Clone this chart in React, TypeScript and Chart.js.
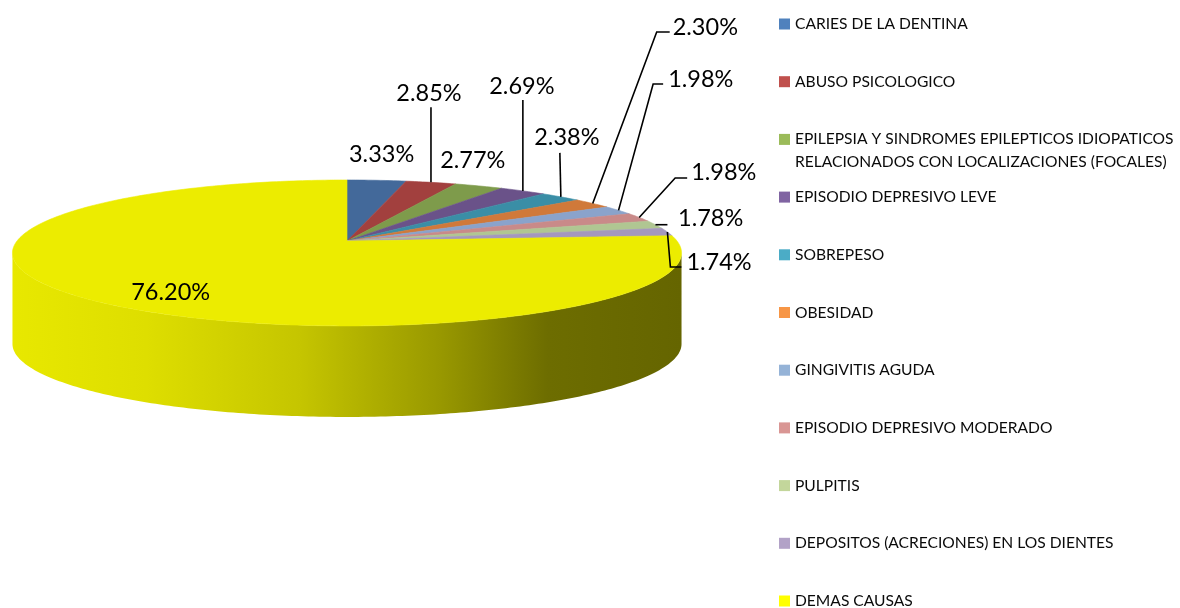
import React, { useEffect, useRef } from "react";
import { Chart, registerables } from "chart.js";

Chart.register(...registerables);

const categories = [
  "CARIES DE LA DENTINA",
  "ABUSO PSICOLOGICO",
  "EPILEPSIA Y SINDROMES EPILEPTICOS IDIOPATICOS\nRELACIONADOS CON LOCALIZACIONES (FOCALES)",
  "EPISODIO DEPRESIVO LEVE",
  "SOBREPESO",
  "OBESIDAD",
  "GINGIVITIS AGUDA",
  "EPISODIO DEPRESIVO MODERADO",
  "PULPITIS",
  "DEPOSITOS (ACRECIONES) EN LOS DIENTES",
  "DEMAS CAUSAS",
];
const percentages = [3.33, 2.85, 2.77, 2.69, 2.38, 2.3, 1.98, 1.98, 1.78, 1.74, 76.2];
const legendColors = [
  "#4F81BD", "#C0504D", "#9BBB59", "#8064A2", "#4BACC6", "#F79646",
  "#95B3D7", "#D99694", "#C3D69B", "#B2A2C7", "#FFFF00",
];
const faceColors = [
  "#43699a", "#a2403e", "#7e9b4b", "#6a5289", "#3a8ea6", "#d0793a",
  "#8aa3cb", "#c98a89", "#b0c692", "#a498bd", "#ecec00",
];

// label placement relative to slice anchor (layout only)
type LabelPos = { line: number[][]; text: [number, number]; align: CanvasTextAlign };
const labelLayout: LabelPos[] = [
  { line: [], text: [5, -26], align: "center" },
  { line: [[0, -75]], text: [-2, -89], align: "center" },
  { line: [], text: [-6, -25], align: "center" },
  { line: [[0, -91]], text: [-1, -104], align: "center" },
  { line: [[-1, -44]], text: [6, -59], align: "center" },
  { line: [[64, -171.5], [77, -171.5]], text: [80, -176.5], align: "left" },
  { line: [[34.6, -126.3], [44.6, -126.3]], text: [49.6, -131.3], align: "left" },
  { line: [[36, -39.4], [48, -39.4]], text: [52, -45.4], align: "left" },
  { line: [[12, 0]], text: [22.6, -6.7], align: "left" },
  { line: [[3, 35], [14, 35]], text: [19, 30], align: "left" },
  { line: [], text: [78.7, -7.3], align: "center" },
];

const P = 0.164; // perspective
const Q = 71 / 330; // vertical squash
const DEPTH = 91 / 330; // side height relative to radius

const sideShade: [number, number][] = [
  [0, 0.985], [0.2, 0.94], [0.43, 0.835], [0.64, 0.645], [0.8, 0.46], [1, 0.43],
];

function hexToRgb(h: string) {
  const n = parseInt(h.slice(1), 16);
  return [(n >> 16) & 255, (n >> 8) & 255, n & 255];
}

function proj(cx: number, cy: number, R: number, ang: number) {
  const u = Math.cos(ang);
  const v = Math.sin(ang);
  const d = 1 - P * v;
  return [cx + (R * u) / d, cy + (R * Q * v) / d];
}

const pie3d = {
  id: "pie3d",
  beforeDatasetsDraw(chart: any) {
    const ctx: CanvasRenderingContext2D = chart.ctx;
    const meta = chart.getDatasetMeta(0);
    const area = chart.chartArea;
    const R = (area.right - area.left) / 2;
    const H = R * DEPTH;
    const visA = Math.asin(P);
    const visB = Math.PI - Math.asin(P);
    const ext = R / Math.sqrt(1 - P * P);

    ctx.save();
    // sides
    meta.data.forEach((arc: any, i: number) => {
      const cx = arc.x, cy = arc.y;
      const a = Math.max(arc.startAngle, visA);
      const b = Math.min(arc.endAngle, visB);
      if (b <= a) return;
      const N = 200;
      ctx.beginPath();
      for (let k = 0; k <= N; k++) {
        const t = a + ((b - a) * k) / N;
        const [x, y] = proj(cx, cy, R, t);
        if (k === 0) ctx.moveTo(x, y);
        else ctx.lineTo(x, y);
      }
      for (let k = N; k >= 0; k--) {
        const t = a + ((b - a) * k) / N;
        const [x, y] = proj(cx, cy, R, t);
        ctx.lineTo(x, y + H);
      }
      ctx.closePath();
      const [r, g, bl] = hexToRgb(faceColors[i]);
      const grad = ctx.createLinearGradient(cx - ext, 0, cx + ext, 0);
      sideShade.forEach(([s, f]) => {
        grad.addColorStop(s, `rgb(${Math.round(r * f)},${Math.round(g * f)},${Math.round(bl * f)})`);
      });
      ctx.fillStyle = grad;
      ctx.fill();
    });

    // top faces
    meta.data.forEach((arc: any, i: number) => {
      const cx = arc.x, cy = arc.y;
      const a = arc.startAngle, b = arc.endAngle;
      const N = Math.max(8, Math.ceil(((b - a) / (Math.PI * 2)) * 400));
      ctx.beginPath();
      ctx.moveTo(cx, cy);
      for (let k = 0; k <= N; k++) {
        const t = a + ((b - a) * k) / N;
        const [x, y] = proj(cx, cy, R, t);
        ctx.lineTo(x, y);
      }
      ctx.closePath();
      ctx.fillStyle = faceColors[i];
      ctx.fill();
      ctx.strokeStyle = faceColors[i];
      ctx.lineWidth = 0.6;
      ctx.stroke();
    });

    // data labels
    ctx.font = "23.5px Lato";
    ctx.textBaseline = "middle";
    ctx.fillStyle = "#000";
    ctx.strokeStyle = "#000";
    ctx.lineWidth = 1.6;
    meta.data.forEach((arc: any, i: number) => {
      const cx = arc.x, cy = arc.y;
      const mid = (arc.startAngle + arc.endAngle) / 2;
      const [ax, ay] = proj(cx, cy, R, mid);
      const lay = labelLayout[i];
      if (lay.line.length) {
        ctx.beginPath();
        ctx.moveTo(ax, ay);
        lay.line.forEach(([dx, dy]) => ctx.lineTo(ax + dx, ay + dy));
        ctx.stroke();
      }
      ctx.textAlign = lay.align;
      const v = chart.data.datasets[0].data[i] as number;
      ctx.fillText(v.toFixed(2) + "%", ax + lay.text[0], ay + lay.text[1]);
    });

    // legend
    ctx.font = "15.6px Lato";
    ctx.textAlign = "left";
    const labels: string[] = chart.data.labels;
    labels.forEach((lab, i) => {
      const y = 24 + i * 57.7;
      ctx.fillStyle = legendColors[i];
      ctx.fillRect(779, y - 5.5, 11, 11);
      ctx.fillStyle = "#0a0a0a";
      lab.split("\n").forEach((ln, j) => {
        ctx.fillText(ln, 795, y + j * 23);
      });
    });
    ctx.restore();
    return false;
  },
};

export default function App() {
  const ref = useRef<HTMLCanvasElement | null>(null);
  useEffect(() => {
    if (!ref.current) return;
    const chart = new Chart(ref.current, {
      type: "pie",
      data: {
        labels: categories,
        datasets: [
          {
            data: percentages,
            backgroundColor: faceColors,
            borderWidth: 0,
          },
        ],
      },
      options: {
        animation: false,
        responsive: false,
        layout: { padding: { left: 17, right: 503, top: 0, bottom: 126 } },
        plugins: { legend: { display: false }, tooltip: { enabled: false } },
      },
      plugins: [pie3d],
    });
    return () => chart.destroy();
  }, []);
  return (
    <div style={{ position: "fixed", left: 0, top: 0, width: 1180, height: 608, background: "#fff" }}>
      <canvas ref={ref} width={1180} height={608} style={{ display: "block" }} />
    </div>
  );
}
